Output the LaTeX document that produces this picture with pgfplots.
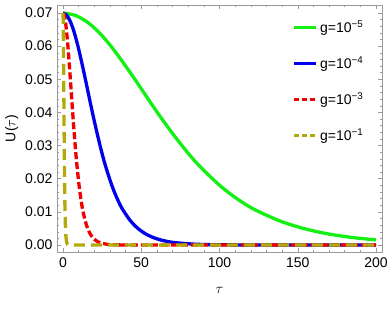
\documentclass[border=0pt]{standalone}
\usepackage{pgfplots}
\pgfplotsset{compat=1.18}
\usepackage{fontspec}
\setmainfont{Liberation Sans}
\definecolor{cgreen}{RGB}{20,240,20}
\definecolor{cblue}{RGB}{0,0,235}
\definecolor{cred}{RGB}{240,0,0}
\definecolor{colive}{RGB}{178,170,10}
\definecolor{frame}{RGB}{155,155,155}
\begin{document}
\begin{tikzpicture}
\begin{axis}[
  scale only axis, width=325pt, height=247pt,
  xmin=-3.83, xmax=203.83, ymin=-0.00211, ymax=0.07241,
  axis line style={frame, line width=0.6pt},
  every tick/.style={frame, line width=0.5pt},
  major tick length=4pt, minor tick length=2pt,
  tick align=inside,
  xtick={0,50,100,150,200}, minor x tick num=4,
  ytick={0,0.01,0.02,0.03,0.04,0.05,0.06,0.07}, minor y tick num=4,
  scaled y ticks=false,
  /pgf/number format/assume math mode=true,
  yticklabel style={/pgf/number format/fixed, /pgf/number format/fixed zerofill, /pgf/number format/precision=2, font=\fontsize{14}{16}\selectfont, xshift=-1pt},
  xticklabel style={font=\fontsize{14}{16}\selectfont, yshift=-2pt},
  xlabel={$\tau$}, ylabel={U($\tau$)},
  label style={font=\fontsize{14}{16}\selectfont},
  xlabel style={yshift=-13pt},
  ylabel style={yshift=0pt},
  legend style={draw=none, fill=none, at={(0.725,0.945)}, anchor=north west, row sep=18.5pt, font=\fontsize{14}{16}\selectfont, inner sep=0pt},
  legend cell align=left,
  legend image code/.code={\draw[#1] (0pt,0pt) -- (22pt,0pt);},
]
\coordinate (bl) at (rel axis cs:0,0);
\coordinate (tr) at (rel axis cs:1,1);
\addplot[cgreen, line width=3.3pt, smooth] coordinates {
(0,0.0700)(7.7,0.0693)(15.4,0.0673)(23.1,0.0641)(30.8,0.0599)(38.5,0.0550)(46.2,0.0498)(53.9,0.0444)(61.6,0.0391)(69.3,0.0341)(77,0.0294)(84.7,0.0251)(92.4,0.0214)(100.1,0.0180)(107.8,0.0151)(115.5,0.0126)(123.2,0.0105)(138.6,0.00725)(154,0.00495)(169.4,0.00335)(184.8,0.00227)(200,0.00154)};
\addlegendentry{g=10\textsuperscript{−5}}
\addplot[cblue, line width=3.3pt, smooth] coordinates {
(0,0.0700)(2.4,0.0693)(4.8,0.0673)(7.2,0.0641)(9.6,0.0599)(12,0.0550)(14.4,0.0498)(16.8,0.0444)(19.2,0.0391)(21.6,0.0341)(24,0.0294)(26.4,0.0251)(28.8,0.0214)(31.2,0.0180)(33.6,0.0151)(36,0.0126)(38.4,0.0105)(43.2,0.00725)(48,0.00495)(52.8,0.00335)(57.6,0.00227)(62.4,0.00153)(67.2,0.00103)(72,0.00069)(84,0.000255)(96,0.000094)(120,0.0000127)(144,0.0000018)(200,0)};
\addlegendentry{g=10\textsuperscript{−4}}
\addplot[cred, line width=3.3pt, smooth, dash pattern=on 7pt off 3pt, legend image post style={dash pattern=on 5pt off 2.6pt}] coordinates {
(0,0.0700)(0.79,0.0693)(1.58,0.0673)(2.37,0.0641)(3.16,0.0599)(3.95,0.0550)(4.74,0.0498)(5.53,0.0444)(6.32,0.0391)(7.11,0.0341)(7.9,0.0294)(8.69,0.0251)(9.48,0.0214)(10.27,0.0180)(11.06,0.0151)(11.85,0.0126)(12.64,0.0105)(14.22,0.00725)(15.8,0.00495)(17.38,0.00335)(18.96,0.00227)(20.54,0.00153)(22.12,0.00103)(23.7,0.00069)(27.65,0.000255)(31.6,0.000094)(39.5,0.0000127)(47.4,0.0000018)(200,0)};
\addlegendentry{g=10\textsuperscript{−3}}
\addplot[colive, line width=3.3pt, dash pattern=on 11pt off 6pt, legend image post style={dash pattern=on 5pt off 2.6pt}] coordinates {
(0,0.0700)(0.16,0.0673)(0.32,0.0599)(0.48,0.0498)(0.64,0.0391)(0.8,0.0294)(0.96,0.0214)(1.12,0.0151)(1.28,0.0105)(1.44,0.00725)(1.6,0.00495)(1.92,0.00227)(2.24,0.00103)(2.8,0.000255)(3.2,0.000094)(4,0.0000127)(4.8,0.0000018)(200,0)};
\addlegendentry{g=10\textsuperscript{−1}}
\end{axis}
\pgfresetboundingbox
\path ([shift={(-57pt,-56pt)}]bl) rectangle ([shift={(8pt,5pt)}]tr);
\end{tikzpicture}
\end{document}
